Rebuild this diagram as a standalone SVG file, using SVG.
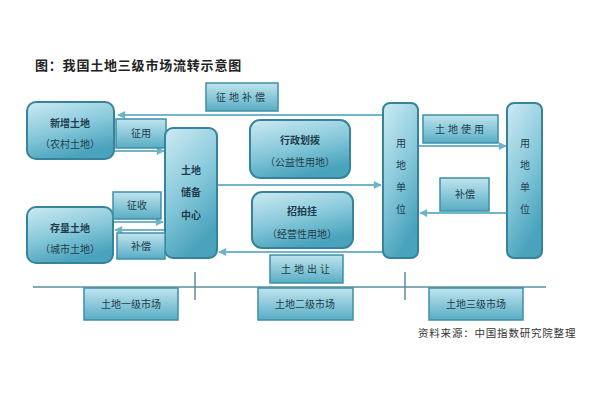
<svg xmlns="http://www.w3.org/2000/svg" width="600" height="400" viewBox="0 0 600 400">
<defs>
<linearGradient id="g" x1="0" y1="0" x2="0" y2="1">
<stop offset="0" stop-color="#c0e4ee"/>
<stop offset="1" stop-color="#58adc5"/>
</linearGradient>
<linearGradient id="g2" x1="0" y1="0" x2="0.4" y2="1">
<stop offset="0" stop-color="#cdeaf2"/>
<stop offset="0.55" stop-color="#88c9db"/>
<stop offset="1" stop-color="#4aa3bc"/>
</linearGradient>
<marker id="ah" viewBox="0 0 10 10" refX="9" refY="5" markerWidth="9" markerHeight="8" markerUnits="userSpaceOnUse" orient="auto">
<path d="M0,0 L10,5 L0,10 z" fill="#6fb3c6"/>
</marker>
</defs>
<style>
.box{fill:url(#g);stroke:#3f8fa7;stroke-width:1.5}
.rbox{fill:url(#g2);stroke:#35849c;stroke-width:2}
.t{font-family:"Noto Sans CJK SC","Noto Sans CJK TC",sans-serif;font-size:10px;fill:#1f3d4c;text-anchor:middle}
.b{font-weight:bold}
.c{stroke:#72b5c8;stroke-width:2;fill:none}
.m{stroke:#5e8e9b;stroke-width:1.5;fill:none}
</style>
<rect width="600" height="400" fill="#ffffff"/>
<text x="35" y="70" font-family="'Noto Sans CJK SC',sans-serif" font-size="13" font-weight="bold" fill="#222" letter-spacing="0.8">图：我国土地三级市场流转示意图</text>

<g id="connectors">
<path class="c" d="M382,115 L118,115" marker-end="url(#ah)"/>
<path class="c" d="M114,151 L164,151" marker-end="url(#ah)"/>
<path class="c" d="M113,222 L163,222" marker-end="url(#ah)"/>
<path class="c" d="M165,230 L115,230" marker-end="url(#ah)"/>
<path class="c" d="M217,185 L381,185" marker-end="url(#ah)"/>
<path class="c" d="M383,252 L219,252" marker-end="url(#ah)"/>
<path class="c" d="M418,146 L506,146" marker-end="url(#ah)"/>
<path class="c" d="M507,213 L420,213" marker-end="url(#ah)"/>
<path class="m" d="M33,287 L546,287 M195,272 V300 M405,272 V300"/>
</g>

<g id="zhengdibuchang"><rect class="box" x="206" y="83" width="72" height="28"/><text class="t" x="242" y="101" letter-spacing="3">征地补偿</text></g>
<g id="xinzengtudi"><rect class="rbox" x="27" y="102" width="87" height="57" rx="9"/><text class="t b" x="70" y="127">新增土地</text><text class="t" x="70" y="148">（农村土地）</text></g>
<g id="zhengyong"><rect class="box" x="116" y="119" width="50" height="29"/><text class="t" x="141" y="137">征用</text></g>
<g id="chubeizhongxin"><rect class="rbox" x="165" y="128" width="52" height="130" rx="8"/><text class="t b" x="191" y="174">土地</text><text class="t b" x="191" y="196">储备</text><text class="t b" x="191" y="219">中心</text></g>
<g id="cunliangtudi"><rect class="rbox" x="27" y="207" width="86" height="56" rx="9"/><text class="t b" x="70" y="232">存量土地</text><text class="t" x="70" y="253">（城市土地）</text></g>
<g id="zhengshou"><rect class="box" x="113" y="192" width="48" height="27"/><text class="t" x="137" y="209">征收</text></g>
<g id="buchang1"><rect class="box" x="117" y="233" width="48" height="26"/><text class="t" x="141" y="250">补偿</text></g>
<g id="xingzhenghuabo"><rect class="rbox" x="250" y="120" width="100" height="58" rx="10"/><text class="t b" x="300" y="144">行政划拨</text><text class="t" x="300" y="166">（公益性用地）</text></g>
<g id="zhaopaigua"><rect class="rbox" x="252" y="192" width="101" height="56" rx="10"/><text class="t b" x="302" y="215">招拍挂</text><text class="t" x="302" y="238">（经营性用地）</text></g>
<g id="tudichurang"><rect class="box" x="270" y="255" width="73" height="28"/><text class="t" x="307" y="273" letter-spacing="3">土地出让</text></g>
<g id="yongdidanwei1"><rect class="rbox" x="383" y="103" width="35" height="155" rx="7"/><text class="t" x="401" y="147">用</text><text class="t" x="401" y="169">地</text><text class="t" x="401" y="191">单</text><text class="t" x="401" y="213">位</text></g>
<g id="yongdidanwei2"><rect class="rbox" x="507" y="103" width="35" height="155" rx="7"/><text class="t" x="525" y="147">用</text><text class="t" x="525" y="169">地</text><text class="t" x="525" y="191">单</text><text class="t" x="525" y="213">位</text></g>
<g id="tudishiyong"><rect class="box" x="423" y="115" width="75" height="28"/><text class="t" x="461" y="133" letter-spacing="3">土地使用</text></g>
<g id="buchang2"><rect class="box" x="440" y="178" width="49" height="33"/><text class="t" x="465" y="198">补偿</text></g>
<g id="market1"><rect class="box" x="84" y="288" width="94" height="32"/><text class="t" x="131" y="308">土地一级市场</text></g>
<g id="market2"><rect class="box" x="258" y="288" width="95" height="32"/><text class="t" x="305" y="308">土地二级市场</text></g>
<g id="market3"><rect class="box" x="429" y="288" width="94" height="32"/><text class="t" x="476" y="308">土地三级市场</text></g>
<text x="418" y="337" font-family="'Noto Sans CJK SC',sans-serif" font-size="10.5" fill="#333" letter-spacing="0.8">资料来源：中国指数研究院整理</text>
</svg>
